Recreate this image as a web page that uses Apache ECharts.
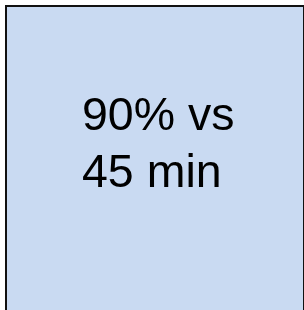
<!DOCTYPE html>
<html>
<head>
<meta charset="utf-8">
<script src="https://cdn.jsdelivr.net/npm/echarts@6/dist/echarts.min.js"></script>
<style>html,body{margin:0;padding:0;background:#fff}#c{width:304px;height:310px}</style>
</head>
<body>
<div id="c"></div>
<script>
const textLines = ["90% vs", "45 min"];
const chart = echarts.init(document.getElementById('c'), null, {renderer: 'canvas'});
chart.setOption({
  animation: false,
  graphic: [
    {type: 'rect', shape: {x: 6, y: 6, width: 298, height: 330},
     style: {fill: '#c9daf2', stroke: '#111', lineWidth: 2}},
    {type: 'text', x: 82, y: 89,
     style: {text: textLines.join('\n'), font: '46.5px "Liberation Sans", Arial, sans-serif',
             fill: '#000', lineHeight: 57, textVerticalAlign: 'top', textAlign: 'left'}}
  ]
});
</script>
</body>
</html>
